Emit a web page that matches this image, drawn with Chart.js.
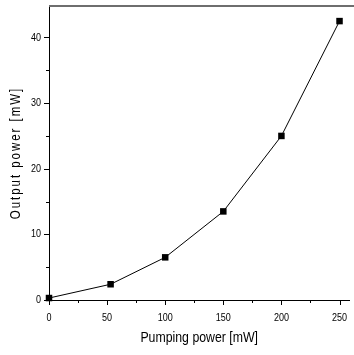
<!DOCTYPE html>
<html><head><meta charset="utf-8">
<script src="https://cdn.jsdelivr.net/npm/chart.js@4/dist/chart.umd.min.js"></script>
<style>html,body{margin:0;padding:0;background:#fff}#wrap{width:354px;height:355px}</style>
</head><body><div id="wrap"><canvas id="c" width="354" height="355"></canvas></div>
<script>
const pumpingPower = [0, 53, 100, 150, 200, 250];
const outputPower = [0.3, 2.4, 6.5, 13.5, 25.0, 42.5];
const xTickStep = 25, xLabelStep = 50;
const yTickStep = 5, yLabelStep = 10;
const xTitle = 'Pumping power [mW]';
const yTitle = 'Output power [mW]';

const FONT = "'Liberation Sans', Arial, sans-serif";
const NARROW = 0.82; // horizontal squeeze to mimic a narrow face

const canvas = document.getElementById('c');
const cx = canvas.getContext('2d');
const origFill = cx.fillText;
cx.fillText = function (text, x, y, maxW) {
  const w = this.measureText(text).width * NARROW;
  return origFill.call(this, text, x, y, maxW !== undefined ? Math.min(maxW, w) : w);
};

const decor = {
  id: 'decor',
  afterUpdate(chart) {
    const y = chart.scales.y;
    if (y && !y._ls) {
      const orig = y.drawTitle.bind(y);
      y.drawTitle = function (a) { const c = this.ctx; const p = c.letterSpacing; c.letterSpacing = '2.4px'; orig(a); c.letterSpacing = p; };
      y._ls = true;
    }
  },
  afterDraw(chart) {
    const ctx = chart.ctx, a = chart.chartArea, x = chart.scales.x, y = chart.scales.y;
    ctx.save();
    ctx.strokeStyle = '#6e6e6e'; ctx.lineWidth = 2;
    ctx.beginPath(); ctx.moveTo(a.left, a.top); ctx.lineTo(chart.width, a.top); ctx.stroke();
    ctx.strokeStyle = '#000'; ctx.lineWidth = 1;
    x.ticks.forEach(t => {
      const px = Math.round(x.getPixelForValue(t.value)) + 0.5;
      const len = (t.value % xLabelStep === 0) ? 5 : 3;
      ctx.beginPath(); ctx.moveTo(px, a.bottom); ctx.lineTo(px, a.bottom + len); ctx.stroke();
    });
    y.ticks.forEach(t => {
      const py = Math.round(y.getPixelForValue(t.value)) + 0.5;
      const len = (t.value % yLabelStep === 0) ? 5 : 3;
      ctx.beginPath(); ctx.moveTo(a.left, py); ctx.lineTo(a.left - len, py); ctx.stroke();
    });
    ctx.restore();
  }
};

new Chart(canvas, {
  type: 'scatter',
  data: {
    datasets: [{
      data: pumpingPower.map((v, i) => ({ x: v, y: outputPower[i] })),
      showLine: true,
      borderColor: '#000',
      borderWidth: 1,
      backgroundColor: '#000',
      pointStyle: 'rect',
      pointRadius: 4.6,
      pointBorderWidth: 0,
      clip: false
    }]
  },
  options: {
    responsive: false,
    animation: false,
    events: [],
    layout: { padding: { top: 6, right: 0, left: 0, bottom: 0 } },
    plugins: { legend: { display: false }, tooltip: { enabled: false } },
    scales: {
      x: {
        type: 'linear', min: 0, max: 258.5,
        afterFit: s => { s.height = 55; s.paddingLeft = 0; s.paddingRight = 0; },
        ticks: {
          stepSize: xTickStep, includeBounds: false, autoSkip: false, maxRotation: 0,
          color: '#000', padding: 6, font: { family: FONT, size: 11 },
          callback: v => (v % xLabelStep === 0 ? String(v) : '')
        },
        grid: { drawOnChartArea: false, drawTicks: true, tickLength: 5, tickColor: 'rgba(0,0,0,0)' },
        border: { color: '#000', width: 1 },
        title: { display: true, text: xTitle, color: '#000', font: { family: FONT, size: 15 }, padding: { top: 0, bottom: 8 } }
      },
      y: {
        type: 'linear', min: 0, max: 44.8,
        afterFit: s => { s.width = 49; s.paddingTop = 0; s.paddingBottom = 0; },
        ticks: {
          stepSize: yTickStep, includeBounds: false, autoSkip: false,
          color: '#000', padding: 3, font: { family: FONT, size: 11 },
          callback: v => (v % yLabelStep === 0 ? String(v) : '')
        },
        grid: { drawOnChartArea: false, drawTicks: true, tickLength: 5, tickColor: 'rgba(0,0,0,0)' },
        border: { color: '#000', width: 1 },
        title: { display: true, text: yTitle, color: '#000', font: { family: FONT, size: 14 }, padding: { top: 8, bottom: 0 } }
      }
    }
  },
  plugins: [decor]
});
</script></body></html>
